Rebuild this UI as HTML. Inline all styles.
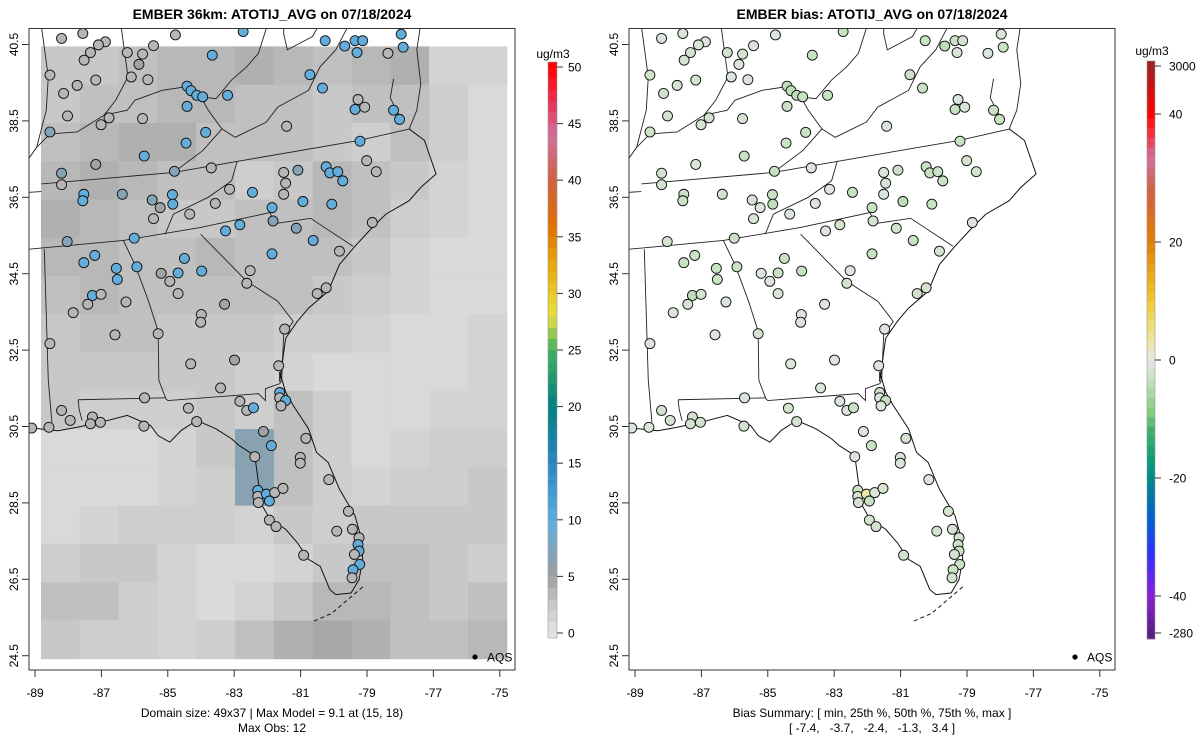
<!DOCTYPE html>
<html><head><meta charset="utf-8"><style>
html,body{margin:0;padding:0;background:#fff;}
svg{display:block;font-family:"Liberation Sans",sans-serif;}
text{white-space:pre;}
</style></head><body>
<svg id="chart" width="1200" height="750" viewBox="0 0 1200 750" xmlns="http://www.w3.org/2000/svg">
<defs>
<clipPath id="clipL"><rect x="29" y="28" width="486" height="642"/></clipPath>
<clipPath id="clipR"><rect x="629" y="28" width="486" height="642"/></clipPath>
</defs>
<g id="root"></g>
</svg>
<script>
// ---- data ----
const gridVals = [
[2.5,2.5,3,3.5,3.5,4,3.5,3,3.5,4,1.5,1.5],
[2.5,3,3,3.5,3.5,3,3,2.5,3,3,2,1],
[3,3.5,4,4,3,3,3,2.5,2,3,2,1],
[3.5,4,3.5,3,3,2,2.5,3.5,3,2.5,1.5,1],
[4,3.5,3,2.5,2.5,3,3,3.5,3,2,1.5,1],
[3.5,3.5,3,3,3.5,3,3,3,2.5,1.5,1,1],
[3,3.5,3,3,3,3,3,2.5,2,1.5,1,1],
[2.5,3,3,2.5,2.5,2.5,2,2,1.5,1,1,1.5],
[2.5,2.5,2.5,2.5,2.5,2,1.5,1,1,1,1,1.5],
[2.5,2,2,2,2.5,2,3,2,1,1,1.5,1.5],
[1,1,1,1.5,2.5,6.5,3,2,1,1.5,2,2],
[1,1,1,1.5,2,6.5,3,2,1.5,2,2,2.5],
[1,1.5,2,2,2,1.5,2.5,2,2.5,2.5,2.5,2.5],
[2,2.5,2.5,1.5,1,1,1.5,2.5,3,3,2.5,2],
[3,3,2,1.5,1,1.5,2.5,3.5,3.5,3,2.5,3],
[2.5,2,2,1.5,2,3,4,4.5,4,3,3,3.5]
];
const stLon = [-88.20,-87.56,-84.77,-82.73,-80.26,-79.67,-79.36,-79.13,-79.30,-77.97,-77.91,-78.37,-83.66,-85.43,-86.22,-85.76,-86.88,-87.09,-87.33,-87.52,-88.55,-87.73,-88.14,-87.17,-85.87,-86.10,-85.60,-84.42,-84.30,-84.13,-83.95,-83.20,-84.42,-80.72,-80.34,-79.27,-79.36,-79.07,-78.20,-78.02,-81.42,-85.76,-86.77,-87.01,-88.02,-88.55,-83.86,-84.45,-85.71,-87.17,-88.20,-88.20,-87.53,-87.56,-86.37,-85.47,-84.86,-84.85,-85.23,-84.80,-83.69,-84.34,-85.43,-83.14,-83.57,-82.45,-81.51,-81.45,-81.51,-81.08,-80.23,-80.12,-79.88,-79.73,-79.01,-78.72,-79.21,-80.93,-80.06,-81.86,-81.83,-82.83,-83.26,-81.13,-80.62,-78.84,-79.83,-81.86,-82.52,-82.62,-83.98,-84.50,-84.69,-85.20,-84.94,-84.69,-85.93,-86.55,-86.52,-87.20,-87.53,-88.03,-86.01,-87.27,-87.41,-87.01,-86.26,-87.85,-86.59,-88.55,-85.29,-83.99,-84.01,-83.29,-80.50,-80.23,-81.48,-81.66,-84.31,-82.99,-83.41,-85.70,-84.38,-82.83,-82.62,-82.42,-81.63,-81.63,-81.45,-81.59,-88.20,-87.94,-87.27,-87.33,-87.03,-88.58,-89.10,-85.72,-84.13,-82.12,-81.88,-82.38,-80.84,-81.01,-81.01,-80.15,-82.29,-82.29,-82.27,-82.03,-81.94,-81.78,-81.53,-81.94,-81.74,-79.56,-79.91,-79.44,-79.24,-79.27,-79.24,-79.38,-80.91,-79.22,-79.42,-79.45];
const stLat = [40.66,40.79,40.75,40.84,40.60,40.46,40.60,40.60,40.29,40.77,40.43,40.27,40.22,40.47,40.29,40.25,40.57,40.49,40.29,40.09,39.70,39.43,39.22,39.57,39.98,39.65,39.58,39.41,39.29,39.17,39.13,39.17,38.88,39.71,39.36,39.06,38.80,38.86,38.78,38.54,38.36,38.56,38.58,38.40,38.63,38.21,38.20,37.92,37.58,37.36,37.13,36.83,36.58,36.41,36.58,36.43,36.57,36.32,36.23,37.18,37.27,36.06,35.94,36.71,36.34,36.63,37.15,36.87,36.58,37.21,37.30,37.14,37.17,36.93,37.46,37.17,37.97,36.39,36.32,36.23,35.88,35.78,35.62,35.69,35.37,35.84,35.09,35.02,34.58,34.25,34.57,34.90,34.52,34.51,34.30,33.98,34.68,34.64,34.35,34.98,34.79,35.34,35.43,33.93,33.70,33.96,33.76,33.48,32.90,32.67,32.93,33.43,33.23,33.70,33.98,34.13,33.05,32.09,32.14,32.24,31.51,31.25,30.98,31.16,30.92,30.99,31.39,31.25,31.18,31.04,30.92,30.66,30.75,30.57,30.61,30.48,30.46,30.51,30.63,30.37,30.00,29.71,30.19,29.69,29.54,29.11,28.83,28.67,28.51,28.73,28.55,28.77,28.88,28.05,27.88,28.28,27.76,27.81,27.59,27.41,27.24,27.15,27.13,26.89,26.75,26.54];
const stObs = [3.6,3.6,3.6,9.5,9.5,9.5,9.5,9.5,9.5,9.5, 9.5,3.6,9.5,3.6,3.6,3.6,3.6,3.6,3.6,3.6, 3.6,3.6,3.6,3.6,4.8,3.6,3.6,9.5,9.5,9.5, 9.5,9.5,9.5,9.5,9.5,3.6,9.5,3.6,9.5,9.5, 3.6,3.6,3.6,3.6,3.6,7,9.5,9.5,9.5,4.8, 7,3.6,9.5,9.5,7,7,9.5,9.5,4.8,7, 3.6,3.6,3.6,3.6,3.6,9.5,3.6,3.6,3.6,7, 9.5,9.5,9.5,9.5,3.6,3.6,9.5,9.5,9.5,9.5, 7,9.5,9.5,7,9.5,3.6,3.6,9.5,3.6,3.6, 9.5,9.5,9.5,4.8,3.6,3.6,9.5,9.5,9.5,9.5, 9.5,7,9.5,9.5,3.6,3.6,3.6,3.6,3.6,3.6, 3.6,3.6,3.6,4.8,3.6,3.6,3.6,3.6,3.6,4.8, 3.6,3.6,3.6,3.6,3.6,9.5,9.5,3.6,9.5,3.6, 3.6,3.6,3.6,3.6,3.6,3.6,3.6,3.6,3.6,4.8, 9.5,3.6,3.6,3.6,3.6,3.6,9.5,3.6,3.6,9.5, 9.5,3.6,3.6,3.6,3.6,3.6,3.6,3.6,3.6,9.5, 9.5,3.6,3.6,9.5,9.5,3.6];
const stBias = [-1,-1.5,-1,-3,-3,-4,-3,-2,-1,-1.5, -3,-1,-3,-1,-2,-2,-1,-1.5,-2,-2, -2.5,-2,-2,-2,-1,-1,-1,-4,-4,-4, -3,-3,-3,-3,-3,-1,-3,-1,-3,-3, -1,-2,-2,-2,-2,-2.5,-3,-3,-3,-1, -2,-2,-3,-3,-2,-2,-3,-4,-1,-3, -1,-1,-1.5,-0.5,-1,-3,-1,-1.5,-1,-3, -3,-3,-3,-3,-2,-2,-3,-4,-3,-3, -2,-2,-1,-2,-3,-1,-2,-3,-1,-2, -3,-3,-3,-1,-1,-1.5,-3,-3,-3,-3, -3,-2,-3,-4,-2,-2,-1,-1,-1,-1, -2,-1,-1,-1,-2,-2,-1,-1,-1,-1, -1,-1,-2,-1,-1,-3,-3,-1,-3,-1, -2,-2,-2,-2,-2,-1,-1,-2,-2,-1, -3,-1,-2,-1,-1,-1,-3,-2,-2,3.4, -3,-1,-2,-2,-2,-2,-2,-2,-2,-3, -3,-2,-2,-3,-3,-2];
const xTicks = [-89,-87,-85,-83,-81,-79,-77,-75];
const yTicks = [24.5,26.5,28.5,30.5,32.5,34.5,36.5,38.5,40.5];
const obsTicks = [0,5,10,15,20,25,30,35,40,45,50];
const biasTicks = [3000,40,20,0,-20,-40,-280];

// ---- geography polylines (lon,lat) ----
const borders = [
 [[-89.2,36.63],[-88.81,36.65]],
 [[-88.81,36.85],[-84.83,37.15],[-82.91,37.44],[-79.24,37.99],[-77.71,38.29]],
 [[-89.19,35.14],[-86.34,35.37],[-84.01,35.71],[-81.92,36.10],[-81.78,35.81],[-80.70,35.95],[-79.42,35.22]],
 [[-82.91,37.44],[-83.08,36.93],[-83.78,36.50],[-84.83,36.06],[-85.08,35.53]],
 [[-84.01,35.53],[-82.62,34.30],[-81.69,33.78],[-81.22,33.25],[-81.51,32.90],[-81.57,31.71],[-81.63,31.62]],
 [[-86.34,35.37],[-85.99,34.74],[-85.58,33.78],[-85.29,32.99],[-85.27,31.71],[-85.06,31.23],[-85.00,31.18],[-82.27,31.36],[-82.06,31.18],[-82.06,31.49],[-81.63,31.62]],
 [[-88.72,35.14],[-88.60,31.71],[-88.49,30.61]],
 [[-87.70,31.20],[-85.06,31.25]],
 [[-87.70,31.20],[-87.67,30.95],[-87.58,30.65]],
 [[-88.95,37.81],[-88.55,38.16],[-87.73,38.21],[-86.92,38.65],[-86.22,38.78],[-85.99,39.04],[-85.17,39.30],[-84.48,39.39],[-84.01,39.13],[-83.55,39.08],[-83.08,39.57],[-82.62,39.92],[-82.27,40.27],[-82.03,40.93]],
 [[-86.40,40.93],[-86.20,39.65],[-86.57,39.04],[-86.92,38.65]],
 [[-88.80,40.93],[-88.60,39.65],[-88.66,38.78],[-88.95,37.81],[-89.2,37.5]],
 [[-84.83,37.15],[-83.95,37.72],[-83.37,38.29],[-83.78,38.78],[-84.01,39.13]],
 [[-83.37,38.29],[-82.97,38.07],[-82.03,38.47],[-81.69,38.86],[-80.76,39.30],[-80.41,39.92],[-79.94,40.36],[-79.6,40.93]],
 [[-81.51,40.93],[-81.51,40.79],[-81.40,40.36],[-80.64,40.71],[-80.5,40.93]],
 [[-77.73,38.29],[-77.50,38.78],[-77.38,39.48],[-77.50,40.36],[-77.4,40.93]],
 [[-78.0,38.6],[-78.3,39.1],[-78.2,39.6]]
];
const coasts = [
 [[-77.73,38.29],[-77.27,37.99],[-76.92,37.11],[-77.38,36.76],[-77.73,36.41],[-78.43,36.06],[-78.84,35.71],[-79.36,35.22],[-79.83,34.74],[-80.17,34.04],[-80.76,33.60],[-81.10,33.25],[-81.45,32.81],[-81.63,31.67],[-81.63,31.93],[-81.45,31.40],[-81.22,31.05],[-80.76,30.44],[-80.52,29.82],[-80.17,29.56],[-79.83,28.86],[-79.36,28.16],[-79.19,27.63],[-79.13,27.02],[-79.24,26.49],[-79.48,26.14],[-79.94,26.10],[-80.12,26.23],[-80.41,26.84],[-80.76,27.02],[-81.10,27.46],[-81.45,27.81],[-81.92,28.07],[-82.15,28.42],[-82.27,29.04],[-82.38,29.74],[-82.85,30.00],[-83.08,30.18],[-83.55,30.44],[-84.13,30.66],[-84.59,30.40],[-84.94,30.09],[-85.29,30.26],[-85.52,30.53],[-86.22,30.79],[-87.03,30.61],[-87.73,30.48],[-88.31,30.39],[-88.90,30.44],[-89.13,30.46]],
 [[-79.13,26.3],[-79.59,25.96],[-80.06,25.61],[-80.64,25.39]]
];

// ---- axes ----
const NS='http://www.w3.org/2000/svg';
const root=document.getElementById('root');
function el(tag,attrs,parent,text){const e=document.createElementNS(NS,tag);for(const k in attrs)e.setAttribute(k,attrs[k]);if(text!==undefined)e.textContent=text;(parent||root).appendChild(e);return e;}
const XS=33.2, YS=38.2;
function xOf(x0,lon){return x0+(lon+89)*XS;}
function yOf(lat){return 44.5+(40.5-lat)*YS;}
function lerp(a,b,t){return a+(b-a)*t;}
function hex(c){return [parseInt(c.slice(1,3),16),parseInt(c.slice(3,5),16),parseInt(c.slice(5,7),16)];}
function scaleColor(stops,v){
 if(v<=stops[0][0])return stops[0][1];
 for(let i=1;i<stops.length;i++){if(v<=stops[i][0]){const t=(v-stops[i-1][0])/(stops[i][0]-stops[i-1][0]);const a=hex(stops[i-1][1]),b=hex(stops[i][1]);return 'rgb('+a.map((x,j)=>Math.round(lerp(x,b[j],t))).join(',')+')';}}
 return stops[stops.length-1][1];
}
const obsStops=[[0,'#e4e4e4'],[2.5,'#c8c8c8'],[5,'#a0a0a0'],[6,'#8fa0aa'],[8,'#78a9c6'],[10,'#5aaee0'],[15,'#2a86c4'],[20,'#008080'],[25,'#40b060'],[28,'#e8e040'],[32,'#e8b010'],[36,'#e07000'],[40,'#d06040'],[44,'#d070a0'],[47,'#e83050'],[50,'#ff0000']];
const biasStops=[[-280,'#5a2080'],[-40,'#8a20d8'],[-33,'#3030ff'],[-27,'#0060d0'],[-20,'#008a8a'],[-16,'#10a070'],[-12,'#40b070'],[-9,'#80cc7a'],[-6,'#a5d7a0'],[-3,'#c9e2c4'],[0,'#e6e6e6'],[3,'#ece6a8'],[6,'#ecdf70'],[10,'#f0c830'],[20,'#e08000'],[28,'#d06040'],[33,'#d070a0'],[38,'#ff2020'],[40,'#ff0000'],[3000,'#a02020']];

function panel(x0,clip,side,title){
 const g=el('g',{});
 
 
 const t=el('text',{x:x0+237,y:19,'text-anchor':'middle','font-size':'14','font-weight':'bold'},g,title);
 
 
 const pg=el('g',{'clip-path':'url(#'+clip+')'},g);
 if(side==='left'){
  const nr=gridVals.length,nc=gridVals[0].length;
  const lon0=-88.82,lon1=-74.79,lat0=40.45,lat1=24.42;
  const dl=(lon1-lon0)/nc,dt=(lat0-lat1)/nr;
  for(let r=0;r<nr;r++)for(let c=0;c<nc;c++){
   const xa=xOf(x0,lon0+c*dl),xb=xOf(x0,lon0+(c+1)*dl),ya=yOf(lat0-r*dt),yb=yOf(lat0-(r+1)*dt);
   const cell=el('rect',{x:xa,y:ya,width:xb-xa+0.5,height:yb-ya+0.5,fill:scaleColor(obsStops,gridVals[r][c])},pg);
   
   
  }
 }
 borders.forEach(b=>{const p=el('polyline',{points:b.map(q=>xOf(x0,q[0])+','+yOf(q[1])).join(' '),fill:'none',stroke:'#222','stroke-width':'0.9'},pg);
  
  });
 coasts.forEach((b,i)=>{const p=el('polyline',{points:b.map(q=>xOf(x0,q[0])+','+yOf(q[1])).join(' '),fill:'none',stroke:'#111','stroke-width':'1',"stroke-dasharray":i===1?'4,3':'none'},pg);
  
  });
 for(let i=0;i<stLon.length;i++){
  const v=side==='left'?stObs[i]:stBias[i];
  const c=el('circle',{cx:xOf(x0,stLon[i]),cy:yOf(stLat[i]),r:5,fill:scaleColor(side==='left'?obsStops:biasStops,v),stroke:'#111','stroke-width':'0.9'},pg);
  
  
 }
 const box=el('rect',{x:x0-6,y:28.5,width:486,height:641.5,fill:'none',stroke:'#333','stroke-width':'1'},g);
 
 
 xTicks.forEach(v=>{const x=xOf(x0,v);el('line',{x1:x,x2:x,y1:670,y2:677,stroke:'#333'},g);
  const tl=el('text',{x:x,y:697,'text-anchor':'middle','font-size':'12'},g,String(v));
  
  });
 yTicks.forEach(v=>{const y=yOf(v);el('line',{x1:x0-6,x2:x0-13,y1:y,y2:y,stroke:'#333'},g);
  const tl=el('text',{x:0,y:0,'text-anchor':'middle','font-size':'12',transform:'translate('+(x0-17)+','+y+') rotate(-90)'},g,v.toFixed(1));
  
  });
 el('circle',{cx:x0+440,cy:657,r:2.6,fill:'#000'},g);
 const lg=el('text',{x:x0+452,y:661.5,'font-size':'12'},g,'AQS');
 
 
}
panel(35,'clipL','left','EMBER 36km: ATOTIJ_AVG on 07/18/2024');
panel(635,'clipR','right','EMBER bias: ATOTIJ_AVG on 07/18/2024');

function sub(x,y,txt,name){const t=el('text',{x:x,y:y,'text-anchor':'middle','font-size':'12'},root,txt);}
sub(272,717,'Domain size: 49x37 | Max Model = 9.1 at (15, 18)','domain-summary');
sub(272,732,'Max Obs: 12','max-obs');
sub(872,717,'Bias Summary: [ min, 25th %, 50th %, 75th %, max ]','bias-summary-header');
sub(872,732,'[ -7.4,   -3.7,   -2.4,   -1.3,   3.4 ]','bias-summary-values');

// colorbars
function obsY(v){return 633-(v/50)*566;}
(function(){
 const g=el('g',{});
 const n=50;for(let i=0;i<n;i++){const v0=i,v1=i+1;el('rect',{x:548,y:obsY(v1),width:9,height:obsY(v0)-obsY(v1)+0.3,fill:scaleColor(obsStops,i+0.5)},g);}
 el('rect',{x:548,y:obsY(0),width:9,height:5,fill:'#e4e4e4'},g);
 el('rect',{x:548,y:obsY(50)-5,width:9,height:5,fill:'#ff0000'},g);
 el('rect',{x:548,y:obsY(50)-5,width:9,height:obsY(0)-obsY(50)+10,fill:'none',stroke:'#999','stroke-width':'0.6'},g);
 obsTicks.forEach(v=>{el('line',{x1:557,x2:563,y1:obsY(v),y2:obsY(v),stroke:'#333'},g);el('text',{x:568,y:obsY(v)+4.5,'font-size':'12'},g,String(v));});
 el('text',{x:553,y:58,'text-anchor':'middle','font-size':'12'},g,'ug/m3');
})();
const biasPos=[[3000,66],[40,114],[20,242],[0,360],[-20,478],[-40,596],[-280,633]];
function biasY(v){for(let i=1;i<biasPos.length;i++){if(v>=biasPos[i][0]){const a=biasPos[i-1],b=biasPos[i];return a[1]+(b[1]-a[1])*(v-a[0])/(b[0]-a[0]);}}return 633;}
(function(){
 const g=el('g',{});
 const top=61,bot=639,n=60;
 for(let i=0;i<n;i++){const y=top+(bot-top)*i/n;
  let v;const yc=y+(bot-top)/n/2;
  for(let k=1;k<biasPos.length;k++){const a=biasPos[k-1],b=biasPos[k];if(yc<=b[1]||k===biasPos.length-1){v=a[0]+(b[0]-a[0])*Math.max(0,Math.min(1,(yc-a[1])/(b[1]-a[1])));break;}}
  el('rect',{x:1147,y:y,width:8,height:(bot-top)/n+0.4,fill:scaleColor(biasStops,v)},g);}
 el('rect',{x:1147,y:top,width:8,height:bot-top,fill:'none',stroke:'#999','stroke-width':'0.6'},g);
 biasTicks.forEach(v=>{const y=biasY(v);el('line',{x1:1155,x2:1161,y1:y,y2:y,stroke:'#333'},g);el('text',{x:1169,y:y+4.5,'font-size':'12'},g,String(v));});
 el('text',{x:1152,y:55,'text-anchor':'middle','font-size':'12'},g,'ug/m3');
})();
</script>
</body></html>
